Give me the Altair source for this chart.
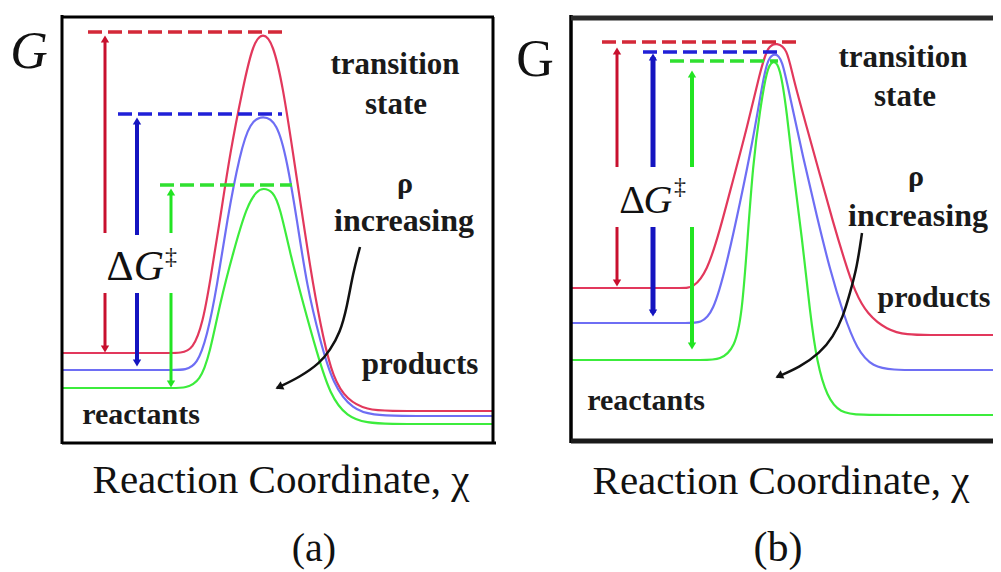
import altair as alt
import pandas as pd

# Reference-frame units: x grows to the right, G-axis position grows downward
# (the y scale is reversed so that the values read off the picture can be used as is).

# ---------------- panel (a) free-energy curves ----------------
A_RED_X = [62, 100, 140, 170, 180, 193, 203, 210, 220, 230, 243, 253, 263, 273, 283, 293, 303, 313, 323, 333, 347, 367, 390, 430, 470, 493]
A_RED_Y = [353, 353, 353, 353, 353, 350, 322, 282, 220, 153, 87, 43, 32, 43, 87, 153, 220, 285, 337, 378, 400, 410, 411, 411, 411, 411]
A_BLUE_X = [62, 100, 140, 175, 185, 197, 207, 217, 227, 240, 250, 263, 277, 287, 297, 307, 320, 333, 353, 373, 400, 440, 470, 493]
A_BLUE_Y = [370, 370, 370, 370, 370, 365, 337, 287, 220, 153, 122, 115, 122, 160, 220, 287, 340, 385, 410, 415, 416, 416, 416, 416]
A_GREEN_X = [62, 100, 140, 175, 185, 200, 210, 220, 233, 247, 257, 263, 273, 280, 290, 303, 317, 330, 347, 367, 390, 430, 470, 493]
A_GREEN_Y = [388, 388, 388, 388, 388, 382, 353, 303, 253, 205, 191, 188, 191, 207, 253, 303, 353, 395, 417, 423, 424, 424, 424, 424]

# ---------------- panel (b) free-energy curves ----------------
B_RED_X = [571, 610, 650, 683, 693, 707, 720, 733, 747, 760, 768, 777, 787, 793, 807, 820, 833, 845, 855, 867, 887, 907, 930, 960, 990, 1001]
B_RED_Y = [288, 288, 288, 288, 288, 272, 230, 180, 128, 72, 45, 43, 48, 78, 128, 175, 222, 262, 292, 314, 330, 335, 335, 335, 335, 335]
B_BLUE_X = [571, 610, 650, 690, 700, 713, 727, 740, 753, 763, 768, 775, 782, 790, 803, 817, 830, 843, 857, 873, 893, 920, 950, 980, 1001]
B_BLUE_Y = [323, 323, 323, 323, 323, 314, 263, 203, 140, 80, 58, 53, 58, 97, 157, 217, 270, 313, 350, 367, 370, 370, 370, 370, 370]
B_GREEN_X = [571, 610, 660, 705, 720, 735, 742, 747, 753, 760, 767, 773, 780, 787, 793, 802, 810, 817, 827, 840, 860, 900, 950, 1001]
B_GREEN_Y = [360, 360, 360, 360, 360, 348, 313, 247, 163, 110, 68, 60, 65, 113, 170, 237, 313, 363, 397, 413, 415, 415, 415, 415]

# ---------------- transition-state levels (dashed) ----------------
DASH_NAME = ["red", "blue", "green", "red", "blue", "green"]
DASH_Y = [32, 114, 185, 42, 52, 61]
DASH_X1 = [88, 118, 160, 602, 643, 670]
DASH_X2 = [283, 282, 292, 797, 778, 778]

# ---------------- ΔG‡ arrows ----------------
ARW_NAME = ["red", "blue", "green", "red", "blue", "green"]
ARW_X = [105, 137, 171, 617, 653, 692]
ARW_TOP = [35, 117, 188, 47, 53, 70]
ARW_GAP1 = [233, 235, 233, 167, 167, 167]
ARW_GAP2 = [293, 293, 293, 227, 227, 227]
ARW_BOT = [353, 367, 388, 287, 317, 350]
ARW_W = [3, 4, 3, 3, 5, 4]

# ---------------- "rho increasing" curved arrows ----------------
RHO_A_X = [277, 300, 320, 330, 340, 347, 353, 360]
RHO_A_Y = [388, 377, 363, 350, 333, 307, 273, 247]
RHO_B_X = [777, 800, 820, 833, 843, 850, 857, 862]
RHO_B_Y = [377, 367, 353, 337, 317, 293, 267, 233]

# ---------------- frames ----------------
FRAME_X1 = [62, 62, 493, 62, 571, 571, 571]
FRAME_X2 = [62, 494, 493, 496, 571, 1001, 1001]
FRAME_Y1 = [15, 17, 17, 443, 15, 18, 441]
FRAME_Y2 = [444, 17, 444, 443, 443, 18, 441]
FRAME_W = [3, 3, 3, 3, 3.5, 5, 5]
FRAME_C = ["#000000", "#000000", "#000000", "#000000", "#000000", "#2a2a2a", "#1a1a1a"]

# ---------------- labels ----------------
BOLD_TEXT = ["transition", "state", "ρ", "increasing", "products", "reactants",
             "transition", "state", "ρ", "increasing", "products", "reactants"]
BOLD_X = [395, 396, 405, 404, 420, 141, 903, 905, 916, 918, 934, 646]
BOLD_Y = [74, 114, 193, 231, 374, 424, 67, 106, 186, 226, 307, 410]
BOLD_SIZE = [31, 31, 30, 32, 31, 30, 31, 31, 30, 32, 30, 30]

REG_TEXT = ["Δ", "‡", "Reaction Coordinate, χ", "(a)",
            "G", "Δ", "‡", "Reaction Coordinate, χ", "(b)"]
REG_X = [120, 171, 281, 314, 535, 632, 680, 781, 778]
REG_Y = [280, 264, 493, 561, 76, 213, 194, 494, 561]
REG_SIZE = [42, 24, 41, 40, 52, 40, 24, 41, 42]

ITAL_TEXT = ["G", "G", "G"]
ITAL_X = [29, 149, 658]
ITAL_Y = [68, 280, 213]
ITAL_SIZE = [52, 42, 40]

CURVE_COLORS = {"red": "#e2385c", "blue": "#6e6ef4", "green": "#3cec3c"}
DASH_COLORS = {"red": "#d42838", "blue": "#2020d8", "green": "#30e030"}
ARROW_COLORS = {"red": "#c8102e", "blue": "#1414c0", "green": "#22e422"}

# ---------------- build tables ----------------
curve_rows = []
for panel, name, xs, ys in [
    ("a", "red", A_RED_X, A_RED_Y), ("a", "blue", A_BLUE_X, A_BLUE_Y), ("a", "green", A_GREEN_X, A_GREEN_Y),
    ("b", "red", B_RED_X, B_RED_Y), ("b", "blue", B_BLUE_X, B_BLUE_Y), ("b", "green", B_GREEN_X, B_GREEN_Y),
]:
    for x, y in zip(xs, ys):
        curve_rows.append({"id": panel + name, "x": x, "y": y, "color": CURVE_COLORS[name]})
curves = pd.DataFrame(curve_rows)

dashes = pd.DataFrame({"x": DASH_X1, "x2": DASH_X2, "y": DASH_Y,
                       "color": [DASH_COLORS[n] for n in DASH_NAME]})

shaft_rows, head_rows = [], []
for n, x, t, g1, g2, b, w in zip(ARW_NAME, ARW_X, ARW_TOP, ARW_GAP1, ARW_GAP2, ARW_BOT, ARW_W):
    c = ARROW_COLORS[n]
    shaft_rows.append({"x": x, "y": t + 4, "y2": g1, "color": c, "w": w})
    shaft_rows.append({"x": x, "y": g2, "y2": b - 4, "color": c, "w": w})
    head_rows.append({"x": x, "y": t + 4, "color": c, "shape": "triangle-up"})
    head_rows.append({"x": x, "y": b - 4, "color": c, "shape": "triangle-down"})
shafts = pd.DataFrame(shaft_rows)
heads = pd.DataFrame(head_rows)

rho_rows = []
for pid, xs, ys in [("a", RHO_A_X, RHO_A_Y), ("b", RHO_B_X, RHO_B_Y)]:
    for x, y in zip(xs, ys):
        rho_rows.append({"id": pid, "x": x, "y": y})
rho = pd.DataFrame(rho_rows)
rho_heads = pd.DataFrame({"x": [RHO_A_X[0] + 2, RHO_B_X[0] + 2],
                          "y": [RHO_A_Y[0] - 1, RHO_B_Y[0] - 1]})

frame = pd.DataFrame({"x": FRAME_X1, "x2": FRAME_X2, "y": FRAME_Y1, "y2": FRAME_Y2,
                      "w": FRAME_W, "color": FRAME_C})

bold = pd.DataFrame({"t": BOLD_TEXT, "x": BOLD_X, "y": BOLD_Y, "s": BOLD_SIZE})
reg = pd.DataFrame({"t": REG_TEXT, "x": REG_X, "y": REG_Y, "s": REG_SIZE})
ital = pd.DataFrame({"t": ITAL_TEXT, "x": ITAL_X, "y": ITAL_Y, "s": ITAL_SIZE})

# ---------------- scales (visible page area: 985 x 564 starting at 8,8) ----------------
XS = alt.Scale(domain=[8, 993], nice=False, zero=False)
YS = alt.Scale(domain=[8, 572], nice=False, zero=False, reverse=True)


def X(f="x"):
    return alt.X(f"{f}:Q", scale=XS, axis=None)


def Y(f="y"):
    return alt.Y(f"{f}:Q", scale=YS, axis=None)


FONT = "Liberation Serif"

frame_layer = alt.Chart(frame).mark_rule().encode(
    x=X(), x2=alt.X2("x2:Q"), y=Y(), y2=alt.Y2("y2:Q"),
    color=alt.Color("color:N", scale=None),
    strokeWidth=alt.StrokeWidth("w:Q", scale=None),
)

curve_layer = alt.Chart(curves).mark_line(interpolate="basis", strokeWidth=2.2).encode(
    x=X(), y=Y(), detail="id:N", color=alt.Color("color:N", scale=None),
)

dash_layer = alt.Chart(dashes).mark_rule(strokeDash=[14, 6], strokeWidth=3.5).encode(
    x=X(), x2=alt.X2("x2:Q"), y=Y(), color=alt.Color("color:N", scale=None),
)

shaft_layer = alt.Chart(shafts).mark_rule().encode(
    x=X(), y=Y(), y2=alt.Y2("y2:Q"),
    color=alt.Color("color:N", scale=None),
    strokeWidth=alt.StrokeWidth("w:Q", scale=None),
)

head_layer = alt.Chart(heads).mark_point(filled=True, size=70, opacity=1).encode(
    x=X(), y=Y(), color=alt.Color("color:N", scale=None),
    shape=alt.Shape("shape:N", scale=None),
)

rho_layer = alt.Chart(rho).mark_line(interpolate="basis", strokeWidth=2.5, color="#111111").encode(
    x=X(), y=Y(), detail="id:N",
)
rho_head_layer = alt.Chart(rho_heads).mark_point(
    shape="triangle-left", filled=True, size=80, opacity=1, color="#111111", angle=335
).encode(x=X(), y=Y())

bold_layer = alt.Chart(bold).mark_text(font=FONT, fontWeight="bold", color="#1a1a1a",
                                       baseline="alphabetic", align="center").encode(
    x=X(), y=Y(), text="t:N", size=alt.Size("s:Q", scale=None))
reg_layer = alt.Chart(reg).mark_text(font=FONT, color="#111111",
                                     baseline="alphabetic", align="center").encode(
    x=X(), y=Y(), text="t:N", size=alt.Size("s:Q", scale=None))
ital_layer = alt.Chart(ital).mark_text(font=FONT, fontStyle="italic", color="#111111",
                                       baseline="alphabetic", align="center").encode(
    x=X(), y=Y(), text="t:N", size=alt.Size("s:Q", scale=None))

chart = alt.layer(
    curve_layer, dash_layer, shaft_layer, head_layer, rho_layer, rho_head_layer,
    frame_layer, bold_layer, reg_layer, ital_layer,
).properties(
    width=985, height=564, padding=0, autosize=alt.AutoSizeParams(type="none"),
    background="white",
).configure_view(stroke=None)

chart.save("out.html", embed_options={"renderer": "svg", "actions": False})
